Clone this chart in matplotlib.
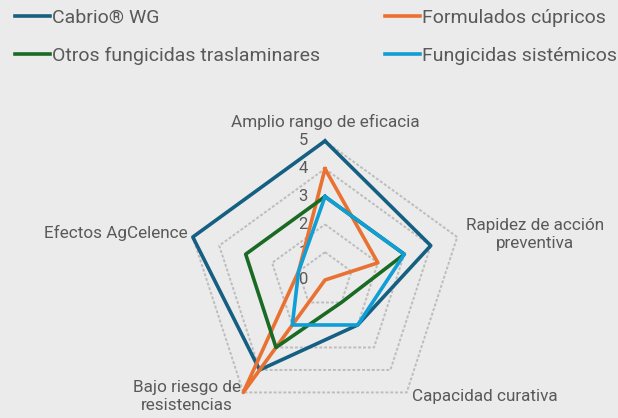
import numpy as np
import matplotlib.pyplot as plt

plt.rcParams['font.family'] = ['Roboto', 'DejaVu Sans']

# data
categories = ["Amplio rango de eficacia", "Rapidez de acción\npreventiva", "Capacidad curativa",
              "Bajo riesgo de\nresistencias", "Efectos AgCelence"]
series_names = ["Cabrio® WG", "Formulados cúpricos", "Otros fungicidas traslaminares", "Fungicidas sistémicos"]
cabrio = [5, 4, 2, 4, 5]
cupricos = [4, 2, 0, 5, 1]
otros = [3, 3, 1, 3, 3]
sistemicos = [3, 3, 2, 2, 1]
ticks = [0, 1, 2, 3, 4, 5]

colors = ["#156082", "#E97132", "#196B24", "#0F9ED5"]
txt = "#595959"
bg = "#ebebeb"

fig = plt.figure(figsize=(6.18, 4.18), dpi=100, facecolor=bg)
ax = fig.add_axes([186/618, -1/418, 278/618, 278/418], projection='polar')
ax.set_facecolor('none')
ax.set_theta_zero_location('N')
ax.set_theta_direction(-1)
ax.set_ylim(0, 5)
ax.grid(False)
ax.spines['polar'].set_visible(False)
ax.set_xticks([])
ax.set_yticks([])

theta = np.linspace(0, 2*np.pi, len(categories), endpoint=False)
th = np.append(theta, theta[0])

# pentagon rings
for r in ticks[1:]:
    ax.plot(th, [r]*len(th), color="#bdbdbd", lw=1.4, ls=(0, (1.5, 1)), clip_on=False, zorder=1)

handles = []
for name, vals, c in zip(series_names, [cabrio, cupricos, otros, sistemicos], colors):
    v = np.append(vals, vals[0])
    h, = ax.plot(th, v, color=c, lw=2.6, clip_on=False, zorder=3, label=name)
    handles.append(h)

for t in ticks:
    ax.annotate(str(t), xy=(0, t), xytext=(-22, 0), textcoords='offset pixels',
                ha='center', va='center', fontsize=12, color=txt, zorder=2)

# category labels
offs = [(0, 19), (78, 3), (5, -4), (-56, -4), (-5, 4)]
has = ['center', 'center', 'left', 'center', 'right']
for i, lab in enumerate(categories):
    ax.annotate(lab, xy=(theta[i], 5), xytext=offs[i], textcoords='offset pixels',
                ha=has[i], va='center', fontsize=12.3, color=txt, linespacing=1.25,
                annotation_clip=False)

kw = dict(loc='upper left', frameon=False, fontsize=14, handlelength=1.8, handletextpad=0.1,
          labelspacing=1.03, borderpad=0, borderaxespad=0, labelcolor=txt)
fig.legend(handles=[handles[0], handles[2]], bbox_to_anchor=(15/618, 1 - 9/418), **kw)
fig.legend(handles=[handles[1], handles[3]], bbox_to_anchor=(385/618, 1 - 9/418), **kw)

fig.savefig("out.png", dpi=100, facecolor=bg)
